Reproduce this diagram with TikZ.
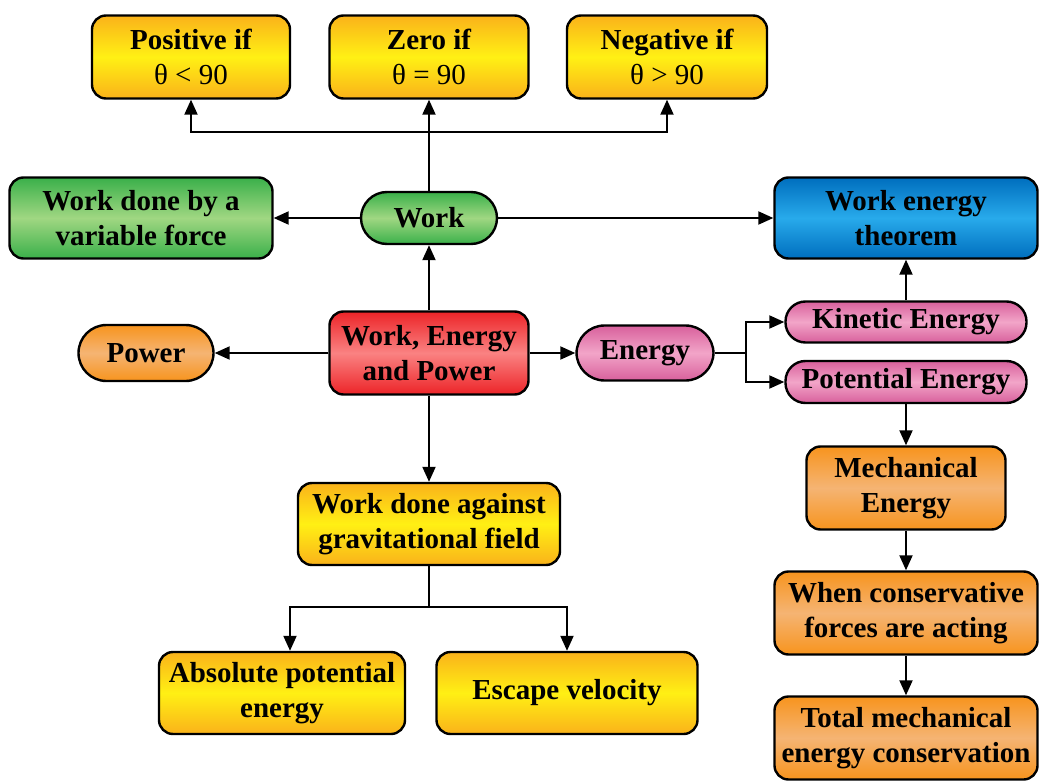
\documentclass[tikz,border=0pt]{standalone}
\usepackage{fontspec}
\setmainfont{Liberation Serif}
\usetikzlibrary{positioning,arrows.meta}
\definecolor{ydark}{RGB}{250, 178, 26}
\definecolor{ylight}{RGB}{255, 240, 20}
\definecolor{gdark}{RGB}{58, 176, 74}
\definecolor{glight}{RGB}{160, 215, 130}
\definecolor{bdark}{RGB}{0, 110, 190}
\definecolor{blight}{RGB}{40, 170, 235}
\definecolor{rdark}{RGB}{236, 36, 40}
\definecolor{rlight}{RGB}{250, 130, 130}
\definecolor{pdark}{RGB}{216, 96, 156}
\definecolor{plight}{RGB}{242, 165, 200}
\definecolor{odark}{RGB}{247, 148, 30}
\definecolor{olight}{RGB}{245, 180, 115}

\begin{document}
\begin{tikzpicture}[
    x=0.5pt, y=-0.5pt,
    font=\fontsize{14.5}{17.5}\selectfont\bfseries,
    box/.style={draw, line width=1.2pt, rectangle, rounded corners=7pt,
                align=center, inner sep=2pt},
    oval/.style={box, rounded corners=#1},
    yel/.style={top color=ydark, bottom color=ydark, middle color=ylight},
    grn/.style={top color=gdark, bottom color=gdark, middle color=glight},
    blu/.style={top color=bdark, bottom color=bdark, middle color=blight},
    redd/.style={top color=rdark, bottom color=rdark, middle color=rlight},
    pnk/.style={top color=pdark, bottom color=pdark, middle color=plight},
    orn/.style={top color=odark, bottom color=odark, middle color=olight},
    arr/.style={-{Triangle[length=7.5pt, width=6.5pt]}, line width=1pt},
    ln/.style={line width=1pt},
  ]
    \useasboundingbox (0,0) rectangle (1039,781);

    % Angle cases (top)
    \node[box, yel, minimum width=99pt, minimum height=41.5pt] (pos) at (191,57)
      {Positive if\\{\mdseries θ < 90}};
    \node[box, yel, minimum width=99.5pt, minimum height=41.5pt] (zero) at (429,57)
      {Zero if\\{\mdseries θ = 90}};
    \node[box, yel, minimum width=100pt, minimum height=41.5pt] (neg) at (667,57)
      {Negative if\\{\mdseries θ > 90}};

    % Work row
    \node[oval=13pt, grn, minimum width=68pt, minimum height=26pt] (work) at (429,218) {Work};
    \node[box, grn, minimum width=131.5pt, minimum height=40.5pt] (varf) at (141,218)
      {Work done by a\\variable force};
    \node[box, blu, minimum width=131.5pt, minimum height=40.5pt] (thm) at (906,218)
      {Work energy\\theorem};

    % Central row
    \node[box, redd, minimum width=99.5pt, minimum height=41.5pt] (wep) at (429,353)
      {Work, Energy\\and Power};
    \node[oval=14pt, orn, minimum width=67.5pt, minimum height=28pt] (power) at (146,353) {Power};
    \node[oval=14pt, pnk, minimum width=68.5pt, minimum height=27.5pt] (energy) at (645,353) {Energy};
    \node[oval=10pt, pnk, minimum width=120.5pt, minimum height=20.5pt] (kin) at (906,322) {Kinetic Energy};
    \node[oval=10pt, pnk, minimum width=120.5pt, minimum height=21pt] (pot) at (906,382) {Potential Energy};

    % Right column
    \node[box, orn, minimum width=99.5pt, minimum height=41.5pt] (mech) at (906,488)
      {Mechanical\\Energy};
    \node[box, orn, minimum width=131.5pt, minimum height=41.5pt] (cons) at (906,613)
      {When conservative\\forces are acting};
    \node[box, orn, minimum width=131.5pt, minimum height=41.5pt] (total) at (906,738)
      {Total mechanical\\energy conservation};

    % Gravitation branch
    \node[box, yel, minimum width=131pt, minimum height=41pt] (grav) at (429,524)
      {Work done against\\gravitational field};
    \node[box, yel, minimum width=123pt, minimum height=41pt] (absp) at (282,693)
      {Absolute potential\\energy};
    \node[box, yel, minimum width=130.5pt, minimum height=41pt] (esc) at (567,693)
      {Escape velocity};

    \coordinate (wsplit) at (429,132);
    \coordinate (esplit) at (746,353);
    \coordinate (gsplit) at (429,607);

    % Connectors
    \draw[ln] (work) -- (wsplit);
    \draw[arr] (wsplit) -| (pos);
    \draw[arr] (wsplit) -| (neg);
    \draw[arr] (work) -- (zero);
    \draw[arr] (work) -- (varf);
    \draw[arr] (work) -- (thm);
    \draw[arr] (wep) -- (work);
    \draw[arr] (wep) -- (power);
    \draw[arr] (wep) -- (energy);
    \draw[arr] (wep) -- (grav);
    \draw[ln] (energy) -- (esplit);
    \draw[arr] (esplit) |- (kin);
    \draw[arr] (esplit) |- (pot);
    \draw[arr] (kin) -- (thm);
    \draw[arr] (pot) -- (mech);
    \draw[arr] (mech) -- (cons);
    \draw[arr] (cons) -- (total);
    \draw[ln] (grav) -- (gsplit);
    \draw[arr] (gsplit) -| ([xshift=4pt]absp.north);
    \draw[arr] (gsplit) -| (esc);
  \end{tikzpicture}
\end{document}
